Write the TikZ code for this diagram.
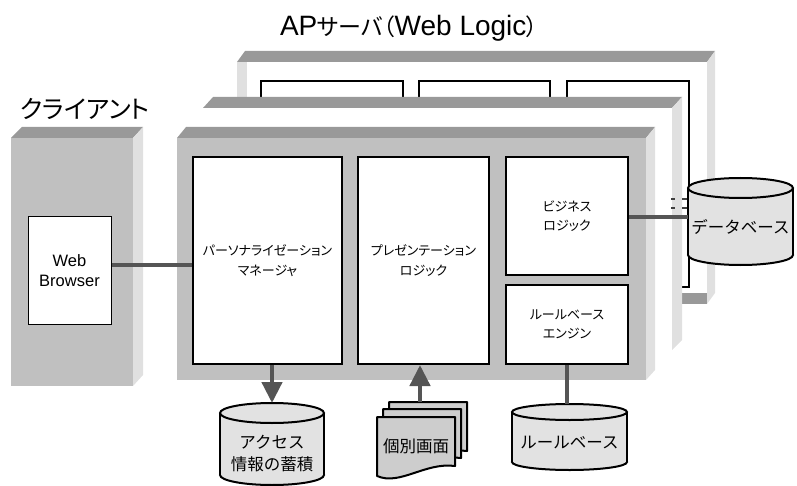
\documentclass[tikz,border=0pt]{standalone}
\usepackage{fontspec}
\setmainfont{Liberation Sans}
\newfontfamily\jp{Noto Sans CJK JP}
\newfontfamily\jpp[RawFeature=+palt]{Noto Sans CJK JP}
\usetikzlibrary{arrows.meta}
\definecolor{topc}{HTML}{999999}
\definecolor{sidec}{HTML}{E0E0E0}
\definecolor{facec}{HTML}{C0C0C0}
\definecolor{connc}{HTML}{555555}
\definecolor{cylc}{HTML}{E2E2E2}
\definecolor{docc}{HTML}{CDCDCD}
\tikzset{
  inbox/.style={draw=black, line width=2pt, fill=white, inner sep=0pt, align=center,
    font=\jpp\fontsize{13}{19.5}\selectfont},
  backbox/.style={draw=black, line width=1.6pt, fill=white},
  conn/.style={draw=connc, line width=4.5pt},
  arr/.style={conn, -{Triangle[width=20pt,length=21pt]}},
  cylline/.style={draw=black, line width=2pt, fill=cylc},
  cyltext/.style={inner sep=0pt, align=center, font=\jp\fontsize{16.5}{22}\selectfont},
  docpage/.style={draw=black, line width=2pt, fill=docc, line join=round},
}
\newcommand\mycyl[8]{%
  \draw[cylline] (#1,#3) ellipse [x radius=#4pt, y radius=#5pt];
  \fill[cylc] (#1-#4,#2) rectangle (#1+#4,#3);
  \draw[line width=2pt] (#1-#4,#2) -- (#1-#4,#3) (#1+#4,#2) -- (#1+#4,#3);
  \draw[cylline] (#1,#2) ellipse [x radius=#4pt, y radius=#5pt];
  \coordinate (#6top) at (#1,#2-#5);
  \node[cyltext, minimum width=2*#4 pt] (#6) at (#1,#7) {#8};
}
\newcommand\mydoc[2]{%
  \draw[docpage] (377+#1,417+#2) -- (455+#1,417+#2) -- (455+#1,466+#2)
    .. controls (425+#1,462+#2) and (400+#1,486+#2) .. (377+#1,476+#2) -- cycle;
}
\begin{document}
\begin{tikzpicture}[x=1pt,y=-1pt]
\useasboundingbox (0,0) rectangle (797,486);

% back layer
\fill[white] (237,62) rectangle (707,304);
\fill[sidec] (237,62) rectangle (247,304);
\fill[topc] (237,293) rectangle (707,304);
\fill[topc] (237,62) -- (245,51) -- (715,51) -- (707,62) -- cycle;
\fill[sidec] (707,62) -- (715,51) -- (715,293) -- (707,304) -- cycle;
\draw[backbox] (261,81) rectangle (403,287);
\draw[backbox] (419,81) rectangle (550,287);
\draw[backbox] (567,81) rectangle (689,287);

% middle layer
\fill[white] (203,108) rectangle (672,350);
\fill[topc] (203,108) -- (213,97) -- (682,97) -- (672,108) -- cycle;
\fill[sidec] (672,108) -- (682,97) -- (682,340) -- (672,350) -- cycle;
\draw[black!75, line width=1.3pt] (671,199) -- (675,199) (682,199) -- (688,199)
  (671,208) -- (675,208) (682,208) -- (688,208);

% client
\fill[facec] (11,138) rectangle (133,386);
\fill[topc] (11,138) -- (22,127) -- (143,127) -- (133,138) -- cycle;
\fill[sidec] (133,138) -- (143,127) -- (143,375) -- (133,386) -- cycle;

% front layer
\fill[facec] (177,138) rectangle (646,380);
\fill[topc] (177,138) -- (186,127) -- (655,127) -- (646,138) -- cycle;
\fill[sidec] (646,138) -- (655,127) -- (655,370) -- (646,380) -- cycle;

% titles
\node (aptitle) at (409,28) {\fontsize{28}{30}\selectfont AP{\jpp\fontsize{23}{30}\selectfont サーバ（}Web Logic{\jpp\fontsize{23}{30}\selectfont ）}};
\node (cltitle) at (85,109) {\jpp\fontsize{25}{28}\selectfont クライアント};

% inner boxes
\node[draw=black, line width=1pt, fill=white, inner sep=0pt, align=center,
  font=\fontsize{16.5}{20}\selectfont, minimum width=83pt, minimum height=107pt]
  (wb) at (69.5,270.5) {Web\\Browser};
\node[inbox, minimum width=149pt, minimum height=207pt] (pm) at (267.5,260.5) {パーソナライゼーション\\マネージャ};
\node[inbox, minimum width=131pt, minimum height=207pt] (pl) at (423.5,260.5) {プレゼンテーション\\ロジック};
\node[inbox, minimum width=122pt, minimum height=118pt] (bl) at (567,216) {ビジネス\\ロジック};
\node[inbox, minimum width=122pt, minimum height=79pt] (re) at (567,324.5) {ルールベース\\エンジン};

% cylinders
\mycyl{740.5}{188}{255}{52.5}{10}{db}{227}{データベース}
\mycyl{272}{413}{475}{52}{10}{acc}{454}{アクセス\\情報の蓄積}
\mycyl{569.5}{412}{462}{57.5}{8}{rb}{443}{ルールベース}

% document stack
\mydoc{12}{-15}
\mydoc{6}{-8}
\mydoc{0}{0}
\node[cyltext] (doc) at (416,446) {個別画面};
\coordinate (docT) at (420,402);

% connectors
\coordinate (wbc) at ([yshift=5.5pt]wb.east);
\draw[conn] (wbc) -- (wbc -| pm.west);
\coordinate (blc) at ([yshift=-1pt]bl.east);
\draw[conn] (blc) -- (blc -| db.west);
\draw[arr] (pm.south -| acctop) -- (acctop);
\draw[arr] (docT) -- (docT |- pl.south);
\draw[conn] (re.south) -- (re.south |- rbtop);
\end{tikzpicture}
\end{document}
